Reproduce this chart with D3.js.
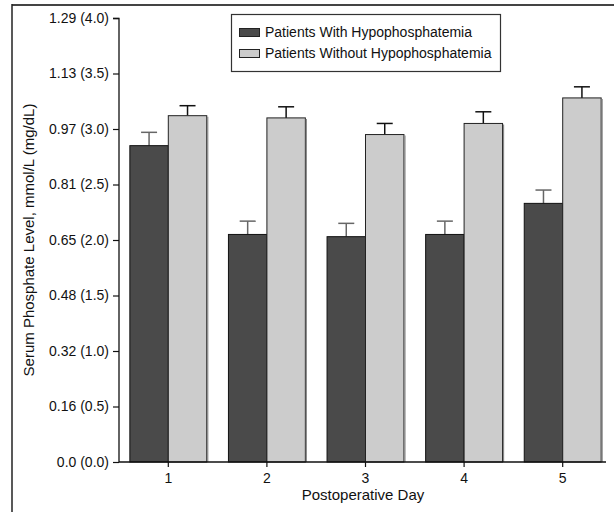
<!DOCTYPE html>
<html><head><meta charset="utf-8">
<script src="https://cdn.jsdelivr.net/npm/d3@7"></script>
<style>
html,body{margin:0;padding:0;background:#fff;}
text{font-family:"Liberation Sans Narrow","Arial Narrow","Liberation Sans",Arial,sans-serif;fill:#111;}
</style></head>
<body>
<svg id="c" width="614" height="512"></svg>
<script>
const days = ["1","2","3","4","5"];
const seriesNames = ["Patients With Hypophosphatemia","Patients Without Hypophosphatemia"];
const withHypo = [2.85, 2.05, 2.03, 2.05, 2.33];
const withHypoErr = [0.12, 0.12, 0.12, 0.12, 0.12];
const withoutHypo = [3.12, 3.10, 2.95, 3.05, 3.28];
const withoutHypoErr = [0.09, 0.10, 0.10, 0.105, 0.10];
const yTickValues = [0, 0.5, 1.0, 1.5, 2.0, 2.5, 3.0, 3.5, 4.0];
const yTickMmol = ["0.0","0.16","0.32","0.48","0.65","0.81","0.97","1.13","1.29"];

const svg = d3.select("#c");
const fills = ["#4a4a4a", "#cccccc"];
const strokes = ["#111", "#222"];
const errColors = ["#666", "#111"];
const FONT = '"Liberation Sans Narrow","Arial Narrow","Liberation Sans",Arial,sans-serif';

// frame
svg.append("line").attr("x1",12).attr("x2",614).attr("y1",5).attr("y2",5).attr("stroke","#444").attr("stroke-width",2);
svg.append("line").attr("x1",12).attr("x2",12).attr("y1",4).attr("y2",512).attr("stroke","#222").attr("stroke-width",1.5);

const y = d3.scaleLinear().domain([0,4]).range([462,18]);
const x = d3.scaleBand().domain(days).range([119,612]).paddingInner(0.22).paddingOuter(0.11);
const x1 = d3.scaleBand().domain([0,1]).range([0, x.bandwidth()]);

const data = days.map((d,i)=>({day:d, vals:[
  {s:0, v:withHypo[i], e:withHypoErr[i]},
  {s:1, v:withoutHypo[i], e:withoutHypoErr[i]}]}));

const g = svg.append("g");
const groups = g.selectAll("g.day").data(data).join("g")
  .attr("transform", d=>`translate(${x(d.day)},0)`);

// error bars
groups.selectAll("g.err").data(d=>d.vals).join("g").each(function(d){
  const cx = x1(d.s) + x1.bandwidth()/2;
  const sel = d3.select(this);
  sel.append("line").attr("x1",cx).attr("x2",cx).attr("y1",y(d.v)).attr("y2",y(d.v+d.e))
    .attr("stroke",errColors[d.s]).attr("stroke-width",1.5);
  sel.append("line").attr("x1",cx-8).attr("x2",cx+8).attr("y1",y(d.v+d.e)).attr("y2",y(d.v+d.e))
    .attr("stroke",errColors[d.s]).attr("stroke-width",1.5);
});

groups.selectAll("rect.bar").data(d=>d.vals).join("rect").attr("class","bar")
  .attr("x", d=>x1(d.s)).attr("width", x1.bandwidth())
  .attr("y", d=>y(d.v)).attr("height", d=>y(0)-y(d.v))
  .attr("fill", d=>fills[d.s]).attr("stroke", d=>strokes[d.s]).attr("stroke-width",1);

// subtle gray shadow on right edge of light bars
groups.selectAll("line.shadow").data(d=>d.vals.filter(v=>v.s===1)).join("line").attr("class","shadow")
  .attr("x1", d=>x1(d.s)+x1.bandwidth()+1).attr("x2", d=>x1(d.s)+x1.bandwidth()+1)
  .attr("y1", d=>y(d.v)+1).attr("y2", y(0))
  .attr("stroke","#888").attr("stroke-width",1.2);

// y axis
const yAxis = d3.axisLeft(y).tickValues(yTickValues).tickSize(6).tickPadding(4)
  .tickFormat((d,i)=>`${yTickMmol[i]} (${d.toFixed(1)})`);
const ya = svg.append("g").attr("transform","translate(119,0)").call(yAxis);
ya.select(".domain").attr("stroke","#111").attr("stroke-width",1.3).attr("d","M-6,18.5H0V462");
ya.selectAll(".tick line").attr("stroke","#111").attr("stroke-width",1.2);
ya.selectAll("text").attr("font-size",14).style("font-family",FONT).attr("fill","#111");

// x axis
const xAxis = d3.axisBottom(x).tickSize(5).tickPadding(6);
const xa = svg.append("g").attr("transform","translate(0,462)").call(xAxis);
xa.select(".domain").attr("stroke","#111").attr("stroke-width",1.3).attr("d","M119,0H606");
xa.selectAll(".tick line").attr("stroke","#111").attr("stroke-width",1.2);
xa.selectAll("text").attr("font-size",14).style("font-family",FONT).attr("fill","#111");

svg.append("text").attr("x",363).attr("y",500).attr("text-anchor","middle").attr("font-size",15)
  .text("Postoperative Day");
svg.append("text").attr("transform","translate(34,240) rotate(-90)").attr("text-anchor","middle").attr("font-size",15)
  .text("Serum Phosphate Level, mmol/L (mg/dL)");

// legend
const lg = svg.append("g");
lg.append("rect").attr("x",231.5).attr("y",14.5).attr("width",269).attr("height",57)
  .attr("fill","#fff").attr("stroke","#333").attr("stroke-width",1.2);
seriesNames.forEach((n,i)=>{
  const yy = 28 + i*21;
  lg.append("rect").attr("x",239.5).attr("y",yy+0.5).attr("width",20).attr("height",8)
    .attr("fill",fills[i]).attr("stroke","#222").attr("stroke-width",1);
  lg.append("text").attr("x",265).attr("y",yy+9).attr("font-size",14).text(n);
});
</script>
</body></html>
